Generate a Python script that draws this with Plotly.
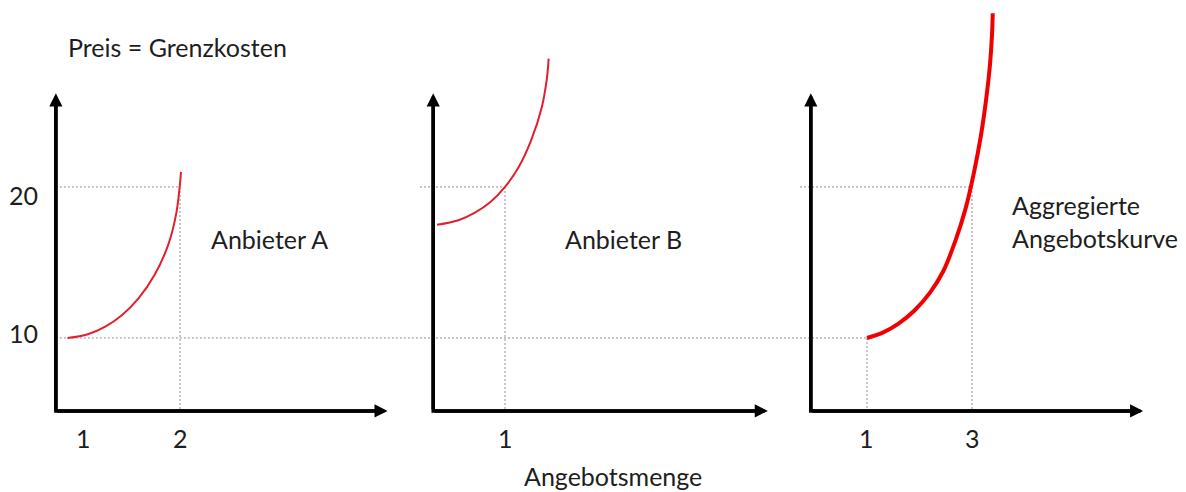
import plotly.graph_objects as go

# ---------------- data ----------------
qty_A = [0.84, 1.05, 1.23, 1.40, 1.57, 1.74, 1.88, 1.96, 1.995, 2.01]
price_A = [10.0, 10.25, 10.75, 11.5, 12.6, 14.2, 16.2, 18.2, 19.9, 21.0]

qty_B = [0.30, 0.52, 0.69, 0.85, 1.00, 1.14, 1.27, 1.38, 1.43, 1.45]
price_B = [17.5, 17.8, 18.3, 19.0, 20.0, 21.3, 23.1, 25.3, 27.1, 28.5]

qty_C = [1.00, 1.30, 1.60, 1.90, 2.20, 2.45, 2.68, 2.88, 3.04, 3.17, 3.27, 3.34, 3.38, 3.395]
price_C = [10.0, 10.35, 10.95, 11.8, 13.0, 14.4, 16.4, 18.6, 21.0, 23.4, 25.8, 28.0, 30.0, 31.5]

ticks_A = [1, 2]
ticks_B = [1]
ticks_C = [1, 3]
price_ticks = [10, 20]

panel_titles = ["Anbieter A", "Anbieter B", "Aggregierte<br>Angebotskurve"]
y_title = "Preis = Grenzkosten"
x_title = "Angebotsmenge"

# guide lines: (price, quantity where the horizontal guide stops / vertical guide stands)
guides_A = [(20, 2), (10, None)]
guides_B = [(20, 1), (10, None)]
guides_C = [(20, 3), (10, 1)]

# ---------------- layout helpers ----------------
Y_RANGE = [-0.2, 32.38]
Y0, YTIP = 5.17, 26.2
panels = [
    dict(xa="x", dom=[0, 420 / 1186], rng=[0.1443, 4.474], x0=0.72, xtip=4.14,
         q=qty_A, p=price_A, ticks=ticks_A, guides=guides_A, width=2, color="#e0202e",
         title=panel_titles[0], tx=209 / 1186, ty=1 - 239 / 492),
    dict(xa="x2", dom=[420 / 1186, 800 / 1186], rng=[0.1237, 4.041], x0=0.26, xtip=3.71,
         q=qty_B, p=price_B, ticks=ticks_B, guides=guides_B, width=2, color="#e0202e",
         title=panel_titles[1], tx=563 / 1186, ty=1 - 239 / 492),
    dict(xa="x3", dom=[800 / 1186, 1.0], rng=[-0.276, 7.076], x0=-0.07, xtip=6.26,
         q=qty_C, p=price_C, ticks=ticks_C, guides=guides_C, width=4, color="#f00000",
         title=panel_titles[2], tx=1010 / 1186, ty=1 - 221 / 492),
]

GRID = dict(color="#8f8f8f", width=1, dash="2px,2px")
FONT = "Lato, 'Open Sans', sans-serif"
FS = 25
TXT = "#1e1e1e"

fig = go.Figure()
annotations = []

for i, pn in enumerate(panels):
    xa = pn["xa"]
    ya = "y"
    # dotted guide lines
    for price, q in pn["guides"]:
        x_start = pn["x0"] if i == 0 else pn["rng"][0]
        x_end = pn["rng"][1] if q is None else q
        fig.add_trace(go.Scatter(x=[x_start, x_end], y=[price, price], mode="lines",
                                 line=GRID, xaxis=xa, yaxis=ya, hoverinfo="skip",
                                 showlegend=False))
        if q is not None:
            fig.add_trace(go.Scatter(x=[q, q], y=[price, Y0], mode="lines",
                                     line=GRID, xaxis=xa, yaxis=ya, hoverinfo="skip",
                                     showlegend=False))
    # supply curve
    fig.add_trace(go.Scatter(x=pn["q"], y=pn["p"], mode="lines", line_shape="spline",
                             line=dict(color=pn["color"], width=pn["width"], smoothing=1.0),
                             xaxis=xa, yaxis=ya, showlegend=False))
    # axes (L shape)
    fig.add_trace(go.Scatter(x=[pn["x0"], pn["x0"], pn["xtip"] - 0.05],
                             y=[YTIP - 0.3, Y0, Y0], mode="lines",
                             line=dict(color="black", width=3.5),
                             xaxis=xa, yaxis=ya, hoverinfo="skip", showlegend=False))
    # arrow heads
    for (tx, ty, ax_, ay_) in [(pn["xtip"], Y0, pn["x0"], Y0), (pn["x0"], YTIP, pn["x0"], Y0)]:
        annotations.append(dict(x=tx, y=ty, ax=ax_, ay=ay_, xref=xa, yref=ya,
                                axref=xa, ayref=ya, text="", showarrow=True,
                                arrowhead=2, arrowsize=0.75, arrowwidth=3.5,
                                arrowcolor="black"))
    # x tick labels
    for t in pn["ticks"]:
        annotations.append(dict(x=t, y=1 - 438 / 492, xref=xa, yref="paper", text=str(t),
                                showarrow=False, font=dict(family=FONT, size=FS, color=TXT),
                                xanchor="center", yanchor="middle"))
    # panel title
    annotations.append(dict(x=pn["tx"], y=pn["ty"], xref="paper", yref="paper",
                            text=pn["title"], showarrow=False, align="left",
                            font=dict(family=FONT, size=FS, color=TXT),
                            xanchor="left", yanchor="middle"))

# y tick labels
for v, shift in zip(price_ticks, [5, -8]):
    annotations.append(dict(x=40 / 1186, y=v, xref="paper", yref="y", text=str(v),
                            showarrow=False, font=dict(family=FONT, size=FS, color=TXT),
                            xanchor="right", yanchor="middle", yshift=shift))

annotations.append(dict(x=66 / 1186, y=1 - 47 / 492, xref="paper", yref="paper",
                        text=y_title, showarrow=False,
                        font=dict(family=FONT, size=FS, color=TXT),
                        xanchor="left", yanchor="middle"))
annotations.append(dict(x=613 / 1186, y=1 - 476 / 492, xref="paper", yref="paper",
                        text=x_title, showarrow=False,
                        font=dict(family=FONT, size=FS, color=TXT),
                        xanchor="center", yanchor="middle"))

hidden = dict(visible=False, showgrid=False, zeroline=False, fixedrange=True)
fig.update_layout(
    width=1186, height=492,
    margin=dict(l=0, r=0, t=0, b=0),
    paper_bgcolor="white", plot_bgcolor="white",
    showlegend=False,
    xaxis=dict(domain=panels[0]["dom"], range=panels[0]["rng"], anchor="y", **hidden),
    xaxis2=dict(domain=panels[1]["dom"], range=panels[1]["rng"], anchor="y", **hidden),
    xaxis3=dict(domain=panels[2]["dom"], range=panels[2]["rng"], anchor="y", **hidden),
    yaxis=dict(domain=[0, 1], range=Y_RANGE, anchor="x", **hidden),
    annotations=annotations,
)

fig.write_html("out.html", config={"displayModeBar": False},
               post_script="document.body.style.margin='0';document.body.style.overflow='hidden';")
